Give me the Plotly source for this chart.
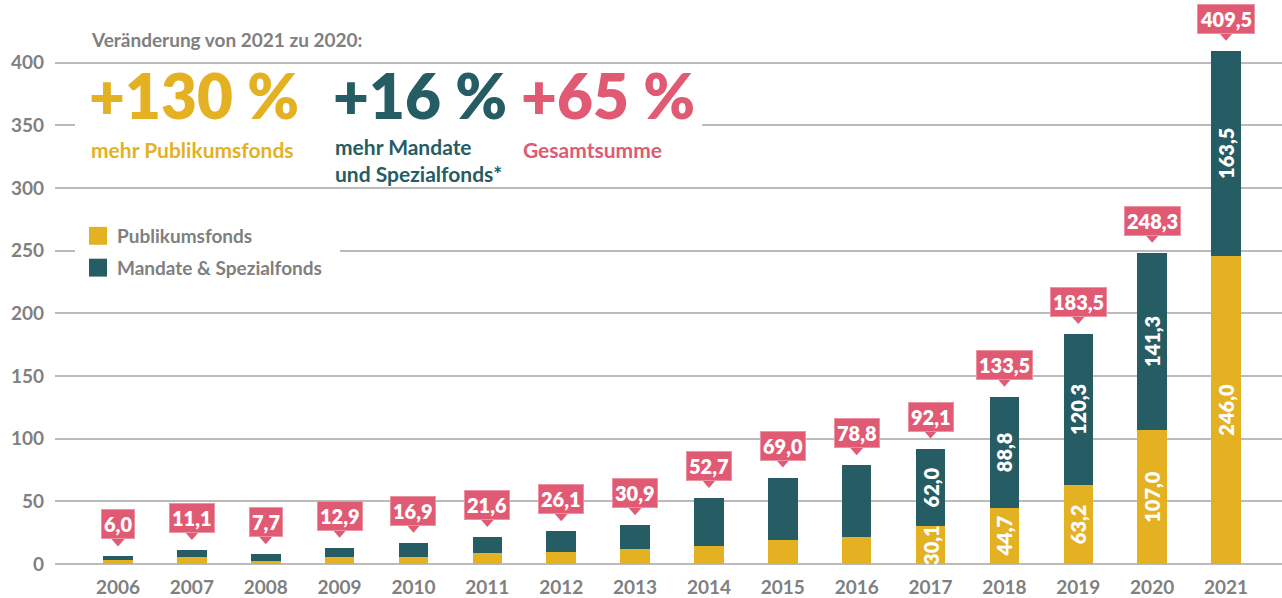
import plotly.graph_objects as go

# ---------------- data ----------------
years = ["2006", "2007", "2008", "2009", "2010", "2011", "2012", "2013",
         "2014", "2015", "2016", "2017", "2018", "2019", "2020", "2021"]
publikumsfonds = [2.9, 5.6, 2.7, 5.7, 5.5, 9.0, 9.8, 12.2,
                  14.6, 19.5, 21.8, 30.1, 44.7, 63.2, 107.0, 246.0]
mandate_spezialfonds = [3.1, 5.5, 5.0, 7.2, 11.4, 12.6, 16.3, 18.7,
                        38.1, 49.5, 57.0, 62.0, 88.8, 120.3, 141.3, 163.5]
totals = [6.0, 11.1, 7.7, 12.9, 16.9, 21.6, 26.1, 30.9,
          52.7, 69.0, 78.8, 92.1, 133.5, 183.5, 248.3, 409.5]
labelled_years = ["2017", "2018", "2019", "2020", "2021"]
y_ticks = [0, 50, 100, 150, 200, 250, 300, 350, 400]

headline = "Veränderung von 2021 zu 2020:"
kpi_values = ["+130 %", "+16 %", "+65 %"]
kpi_texts = ["mehr Publikumsfonds", "mehr Mandate<br>und Spezialfonds*", "Gesamtsumme"]
series_names = ["Publikumsfonds", "Mandate & Spezialfonds"]

# ---------------- style ----------------
YELLOW = "#E3B122"
TEAL = "#265C63"
PINK = "#E05A73"
PINK_EDGE = "#EC93A3"
GRAY = "#808080"
GRID = "#BBBBBB"
FONT = "Lato"

W, H = 1282, 598
ML, MR, MT, MB = 55, 0, 20, 31
PW, PH = W - ML - MR, H - MT - MB


def px_x(px):
    return (px - ML) / PW


def px_y(py):
    return (H - MB - py) / PH


def de(v):
    return f"{v:.1f}".replace(".", ",")


xs = list(range(len(years)))
pub_txt = [de(v) if y in labelled_years else "" for y, v in zip(years, publikumsfonds)]
man_txt = [de(v) if y in labelled_years else "" for y, v in zip(years, mandate_spezialfonds)]

fig = go.Figure()
for vals, txt, name, col in [(publikumsfonds, pub_txt, series_names[0], YELLOW),
                             (mandate_spezialfonds, man_txt, series_names[1], TEAL)]:
    fig.add_trace(go.Bar(
        x=xs, y=vals, name=name, marker=dict(color=col, line=dict(width=0)),
        width=0.4, text=txt, textposition="inside", textangle=-90, insidetextanchor="middle",
        textfont=dict(family=FONT, size=20, color="white", weight=800), showlegend=False,
        hoverinfo="skip", cliponaxis=False))

shapes = []
annotations = []

# white boxes covering gridlines behind headline and legend
shapes.append(dict(type="rect", xref="paper", yref="paper", x0=px_x(75), x1=px_x(702),
                   y0=px_y(134), y1=px_y(68), fillcolor="white", line=dict(width=0), layer="above"))
shapes.append(dict(type="rect", xref="paper", yref="paper", x0=px_x(75), x1=px_x(340),
                   y0=px_y(285), y1=px_y(220), fillcolor="white", line=dict(width=0), layer="above"))

# custom legend
for i, (name, col) in enumerate(zip(series_names, [YELLOW, TEAL])):
    cy = 237 + 32 * i
    shapes.append(dict(type="rect", xref="paper", yref="paper", x0=px_x(89), x1=px_x(107),
                       y0=px_y(cy + 9), y1=px_y(cy - 9), fillcolor=col, line=dict(width=0),
                       layer="above"))
    annotations.append(dict(xref="paper", yref="paper", x=px_x(115), y=px_y(cy), xanchor="left",
                            yanchor="middle", text=name, showarrow=False,
                            font=dict(family=FONT, size=19, color=GRAY, weight=700)))

# total callouts
for x, t in zip(xs, totals):
    annotations.append(dict(x=x, y=t, xref="x", yref="y", text=de(t), showarrow=False,
                            yanchor="bottom", xanchor="center", yshift=17,
                            bgcolor=PINK, bordercolor=PINK_EDGE, borderwidth=1, borderpad=2,
                            font=dict(family=FONT, size=20, color="white", weight=800)))
    shapes.append(dict(type="path", xref="x", yref="y", xsizemode="pixel", ysizemode="pixel",
                       xanchor=x, yanchor=t, path="M -7,18 L 7,18 L 0,10 Z",
                       fillcolor=PINK, line=dict(width=0), layer="above"))

# headline
annotations.append(dict(xref="paper", yref="paper", x=px_x(89), y=px_y(40), xanchor="left",
                        yanchor="middle", text=headline, showarrow=False,
                        font=dict(family=FONT, size=19, color=GRAY, weight=700)))
kpi_x = [87, 331, 519]
kpi_col = [YELLOW, TEAL, PINK]
kpi_sub_y = [150, 161, 150]
for v, t, xx, c, sy in zip(kpi_values, kpi_texts, kpi_x, kpi_col, kpi_sub_y):
    annotations.append(dict(xref="paper", yref="paper", x=px_x(xx), y=px_y(95), xanchor="left",
                            yanchor="middle", text=v, showarrow=False,
                            font=dict(family=FONT, size=62, color=c, weight=800)))
    annotations.append(dict(xref="paper", yref="paper", x=px_x(xx + 2), y=px_y(sy), xanchor="left",
                            yanchor="middle", text=t, showarrow=False, align="left",
                            font=dict(family=FONT, size=21, color=c, weight=700)))

fig.update_layout(
    width=W, height=H, margin=dict(l=ML, r=MR, t=MT, b=MB),
    plot_bgcolor="white", paper_bgcolor="white", barmode="stack", bargap=0.6,
    shapes=shapes, annotations=annotations, showlegend=False,
    uniformtext=dict(minsize=20, mode="show"),
    xaxis=dict(range=[-0.853, 15.758], tickvals=xs, ticktext=years, showgrid=False,
               showline=False, zeroline=False, ticks="", ticklabelstandoff=10,
               tickfont=dict(family=FONT, size=19, color=GRAY, weight=700), fixedrange=True),
    yaxis=dict(range=[0, PH / 1.26], tickvals=y_ticks, showgrid=True, gridcolor=GRID,
               gridwidth=1.5, zeroline=True, zerolinecolor=GRID, zerolinewidth=1.5,
               showline=False, ticks="", ticklabelstandoff=10,
               tickfont=dict(family=FONT, size=19, color=GRAY, weight=700), fixedrange=True),
)

fig.write_html("out.html", config={"displayModeBar": False},
               post_script="document.body.style.margin='0';")
